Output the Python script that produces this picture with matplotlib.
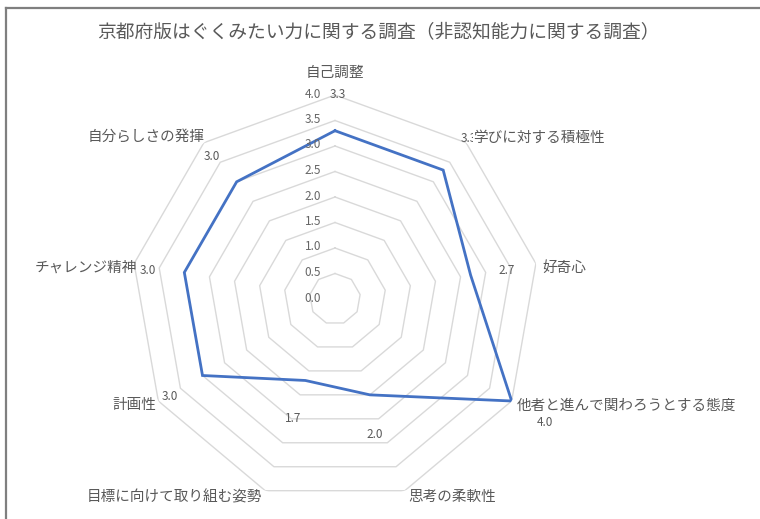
import numpy as np
import matplotlib
matplotlib.use("Agg")
import matplotlib.pyplot as plt
from matplotlib.transforms import offset_copy
from matplotlib.lines import Line2D

plt.rcParams['font.family'] = ['Noto Sans CJK JP', 'DejaVu Sans']

title = "京都府版はぐくみたい力に関する調査（非認知能力に関する調査）"
categories = ["自己調整", "学びに対する積極性", "好奇心", "他者と進んで関わろうとする態度",
              "思考の柔軟性", "目標に向けて取り組む姿勢", "計画性", "チャレンジ精神", "自分らしさの発揮"]
values = [3.3, 3.3, 2.7, 4.0, 2.0, 1.7, 3.0, 3.0, 3.0]
ticks = [0.0, 0.5, 1.0, 1.5, 2.0, 2.5, 3.0, 3.5, 4.0]

W, H = 760, 519
fig = plt.figure(figsize=(W / 100, H / 100), dpi=100)
fig.patch.set_facecolor("white")

cx, cy, R = 335, 299, 204
ax = fig.add_axes([(cx - R) / W, (H - cy - R) / H, 2 * R / W, 2 * R / H], projection="polar")
ax.set_theta_offset(np.pi / 2)
ax.set_theta_direction(-1)
ax.set_ylim(0, 4)
ax.grid(False)
ax.spines['polar'].set_visible(False)
ax.set_xticks([])
ax.set_yticks([])
ax.patch.set_alpha(0)

n = len(categories)
theta = np.linspace(0, 2 * np.pi, n, endpoint=False)
theta_c = np.append(theta, theta[0])

gray_txt = "#595959"
for lvl in ticks:
    if lvl == 0:
        continue
    ax.plot(theta_c, [lvl] * (n + 1), color="#d9d9d9", lw=1.0, zorder=1)

vals_c = np.append(values, values[0])
ax.plot(theta_c, vals_c, color="#4472C4", lw=2.0, zorder=3, solid_joinstyle="miter")

tr = offset_copy(ax.transData, fig=fig, x=-14, y=1, units="dots")
for lvl in ticks:
    ax.text(0, lvl, f"{lvl:.1f}", transform=tr, ha="right", va="center",
            fontsize=8.5, color="#666666", zorder=4)

def px(x, y):
    return x / W, 1 - y / H

# value labels (pixel centres)
val_pos = [(338, 95), (469, 139), (507, 270), (545, 422), (375, 434),
           (293, 418), (170, 397), (148, 270), (212, 156)]
for (x, y), v in zip(val_pos, values):
    fig.text(*px(x, y), f"{v:.1f}", ha="center", va="center", fontsize=8.5, color=gray_txt)

# category labels
cat_pos = [((335, 73), "center"), ((473, 138), "left"), ((542, 268), "left"),
           ((517, 406), "left"), ((408, 497), "left"), ((262, 497), "right"),
           ((156, 405), "right"), ((137, 268), "right"), ((205, 137), "right")]
for ((x, y), ha), c in zip(cat_pos, categories):
    t = fig.text(*px(x, y), c, ha=ha, va="center", fontsize=10.5, color=gray_txt)
    if c == "学びに対する積極性":
        t.set_bbox(dict(facecolor="white", edgecolor="none", pad=0.3))

fig.text(*px(378, 32), title, ha="center", va="center", fontsize=13.5, color=gray_txt)

# chart frame (top and left edges)
fig.add_artist(Line2D([6 / W, 6 / W], [0, 1 - 8 / H], color="#7f7f7f", lw=1.6))
fig.add_artist(Line2D([6 / W, 1], [1 - 8 / H, 1 - 8 / H], color="#7f7f7f", lw=1.6))

fig.savefig("out.png", dpi=100, facecolor="white")
